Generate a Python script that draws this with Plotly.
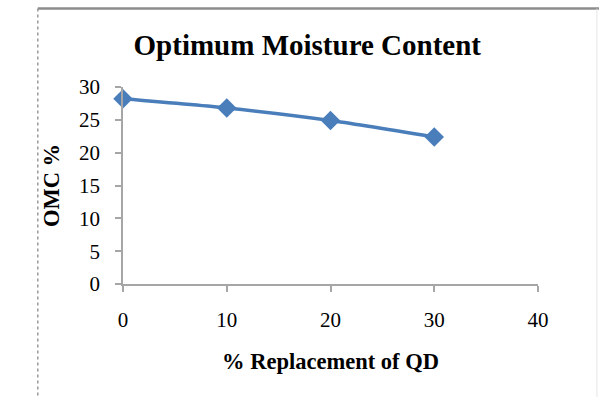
import plotly.graph_objects as go

# Optimum moisture content vs. % replacement of QD
replacement_pct = [0, 10, 20, 30]
omc_pct = [28.2, 26.8, 24.9, 22.4]

x_ticks = [0, 10, 20, 30, 40]
y_ticks = [0, 5, 10, 15, 20, 25, 30]

serif = "Liberation Serif, Times New Roman, serif"
axis_grey = "#a6a6a6"

fig = go.Figure(
    go.Scatter(
        x=replacement_pct,
        y=omc_pct,
        mode="lines+markers",
        line=dict(color="#4a7ebb", width=3.5, shape="spline", smoothing=0.6),
        marker=dict(symbol="diamond", size=15, color="#4a7ebb"),
        cliponaxis=False,
        showlegend=False,
    )
)

fig.update_layout(
    width=599,
    height=397,
    margin=dict(l=123, r=61, t=87, b=113),
    paper_bgcolor="white",
    plot_bgcolor="white",
    font=dict(family=serif, color="black", size=21),
    title=dict(
        text="<b>Optimum Moisture Content</b>",
        x=0.513,
        xanchor="center",
        y=0.887,
        yanchor="middle",
        font=dict(family=serif, size=29, color="black"),
    ),
)

fig.update_xaxes(
    range=[0, 40],
    tickvals=x_ticks,
    showgrid=False,
    zeroline=False,
    showline=True,
    linecolor=axis_grey,
    linewidth=1.5,
    ticks="outside",
    ticklen=6,
    tickcolor=axis_grey,
    tickwidth=1.5,
    ticklabelstandoff=10,
    tickfont=dict(family=serif, size=21),
    title=dict(text="<b>% Replacement of QD</b>", font=dict(family=serif, size=22.5), standoff=22),
)

fig.update_yaxes(
    range=[0, 30],
    tickvals=y_ticks,
    showgrid=False,
    zeroline=False,
    showline=True,
    linecolor=axis_grey,
    linewidth=1.5,
    ticks="outside",
    ticklen=6,
    tickcolor=axis_grey,
    tickwidth=1.5,
    ticklabelstandoff=11,
    tickfont=dict(family=serif, size=21),
    title=dict(text="<b>OMC %</b>", font=dict(family=serif, size=22.5), standoff=13),
)

# Chart-area frame: solid top edge, dotted left edge, faint right edge
fig.add_shape(type="line", xref="paper", yref="paper", x0=-0.2053, x1=1.2, y0=1.398, y1=1.398,
              line=dict(color="#8c8c8c", width=2.5))
fig.add_shape(type="line", xref="paper", yref="paper", x0=-0.2053, x1=-0.2053, y0=1.398, y1=-0.6,
              line=dict(color="#9a9a9a", width=1.5, dash="dot"))
fig.add_shape(type="line", xref="paper", yref="paper", x0=1.142, x1=1.142, y0=1.398, y1=-0.6,
              line=dict(color="#e6e6e6", width=1))

fig.write_html("out.html")
